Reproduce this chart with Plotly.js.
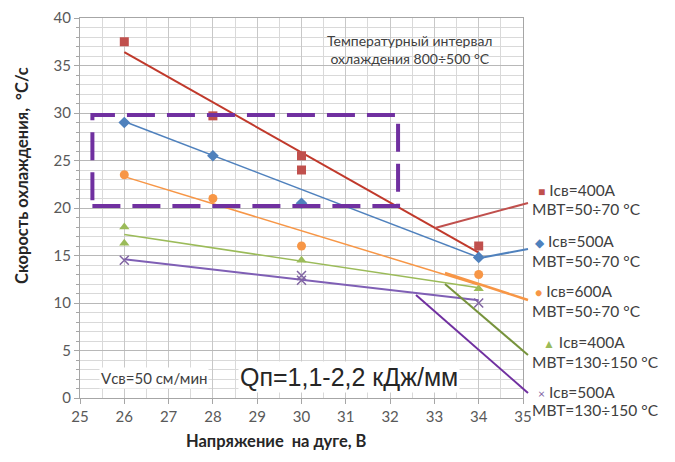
<!DOCTYPE html>
<html>
<head>
<meta charset="utf-8">
<script src="https://cdn.plot.ly/plotly-3.0.1.min.js"></script>
<style>html,body{margin:0;padding:0;background:#fff;}#chart{width:675px;height:462px;}</style>
</head>
<body>
<div id="chart"></div>
<script>
// Measured points
const x400a = [26, 28, 30, 30, 34];
const y400a = [37.5, 29.7, 25.5, 24.0, 16.0];
const x500a = [26, 28, 30, 34];
const y500a = [29.0, 25.5, 20.5, 14.8];
const x600a = [26, 28, 30, 34];
const y600a = [23.5, 21.0, 16.0, 13.0];
const x400b = [26, 26, 30, 34];
const y400b = [18.0, 16.3, 14.5, 11.5];
const x500b = [26, 30, 30, 34];
const y500b = [14.5, 12.9, 12.4, 10.0];

// Trend lines (endpoints at 26 and 34 V)
const trendX = [26, 34];
const trend400a = [36.4, 15.3];
const trend500a = [29.1, 14.8];
const trend600a = [23.3, 11.9];
const trend400b = [17.2, 11.6];
const trend500b = [14.6, 10.3];

// Axis ticks
const xTicks = [25, 26, 27, 28, 29, 30, 31, 32, 33, 34, 35];
const yTicks = [0, 5, 10, 15, 20, 25, 30, 35, 40];

const legendLabels = [
  ['■', '#C0504D', 'Iсв=400A', 'MBT=50÷70 °C'],
  ['◆', '#4F81BD', 'Iсв=500A', 'MBT=50÷70 °C'],
  ['●', '#F79646', 'Iсв=600A', 'MBT=50÷70 °C'],
  ['▲', '#9BBB59', 'Iсв=400A', 'MBT=130÷150 °C'],
  ['×', '#8064A2', 'Iсв=500A', 'MBT=130÷150 °C']
];

const FONT = 'Lato, "Open Sans", sans-serif';

function pts(x, y, color, symbol, size) {
  return {x: x, y: y, type: 'scatter', mode: 'markers', showlegend: false, hoverinfo: 'skip',
    marker: {color: color, symbol: symbol, size: size, line: {color: color, width: symbol === 'x-thin' ? 1.5 : 0}}};
}
function line(y, color, w) {
  return {x: trendX, y: y, type: 'scatter', mode: 'lines', showlegend: false, hoverinfo: 'skip',
    line: {color: color, width: w}};
}

const data = [
  line(trend400a, '#C0392B', 2),
  line(trend500a, '#4F81BD', 1.5),
  line(trend600a, '#F79646', 1.5),
  line(trend400b, '#9BBB59', 1.5),
  line(trend500b, '#7F5FB5', 2),
  pts(x400a, y400a, '#C0504D', 'square', 9),
  pts(x500a, y500a, '#4F81BD', 'diamond', 9),
  pts(x600a, y600a, '#F79646', 'circle', 9),
  pts(x400b, y400b, '#9BBB59', 'triangle-up', 9),
  pts(x500b, y500b, '#8064A2', 'x-thin', 9)
];

// plot area in pixels: x 80..523, y 18..398
const L = 80, R = 523, T = 18, B = 398;
const px = v => (v - L) / (R - L);
const py = v => (B - v) / (B - T);

function conn(x0, y0, x1, y1, color, w) {
  return {type: 'line', xref: 'paper', yref: 'paper', x0: px(x0), y0: py(y0), x1: px(x1), y1: py(y1),
    line: {color: color, width: w}};
}

const shapes = [
  {type: 'rect', xref: 'x', yref: 'y', x0: 25.28, x1: 32.18, y0: 20.2, y1: 29.8,
   line: {color: '#7030A0', width: 4, dash: '28px,12px'}},
  conn(435, 228, 528, 203, '#C0504D', 2),
  conn(480, 258, 528, 249, '#4F81BD', 2),
  conn(445, 273, 528, 300, '#F79646', 2.5),
  conn(445, 284, 528, 355, '#77933C', 2),
  conn(416, 295, 528, 393, '#7030A0', 2)
];

const annotations = [];
function ann(text, xPix, yPix, size, opts) {
  annotations.push(Object.assign({text: text, xref: 'paper', yref: 'paper', x: px(xPix), y: py(yPix),
    xanchor: 'left', yanchor: 'middle', showarrow: false,
    font: {family: FONT, size: size, color: '#404040'}}, opts || {}));
}
const legendY = [[190, 209, 536], [241, 261, 533], [291, 311, 533], [342, 362, 541], [392, 410, 536]];
legendLabels.forEach((l, i) => {
  ann('<span style="color:' + l[1] + ';font-size:12px">' + l[0] + '</span> ' + l[2], legendY[i][2], legendY[i][0], 15.5);
  ann(l[3], 530, legendY[i][1], 15.5);
});
ann('Температурный интервал<br>охлаждения 800÷500 °С', 410, 49, 14, {xanchor: 'center', align: 'center'});
ann('Vсв=50 см/мин', 99, 378, 15, {bgcolor: '#ffffff'});
ann('Qп=1,1-2,2 кДж/мм', 238, 377, 25, {bgcolor: '#ffffff', font: {family: '"Liberation Sans", Arial, sans-serif', size: 25, color: '#262626'}});
ann('<b>Напряжение  на дуге, В</b>', 276, 441, 16.5, {xanchor: 'center', font: {family: FONT, size: 16.5, color: '#262626'}});
ann('<b>Скорость охлаждения,  °С/с</b>', 22, 176, 16.5, {xanchor: 'center', textangle: -90, font: {family: FONT, size: 16.5, color: '#262626'}});

const layout = {
  width: 675, height: 462,
  margin: {l: L, r: 675 - R, t: T, b: 462 - B},
  paper_bgcolor: '#ffffff', plot_bgcolor: '#ffffff',
  font: {family: FONT, size: 15, color: '#595959'},
  showlegend: false,
  xaxis: {range: [25, 35], tickvals: xTicks, ticktext: xTicks.map(String), showgrid: true, gridcolor: '#c8c8c8', gridwidth: 1,
    minor: {dtick: 0.5, tick0: 25, showgrid: true, gridcolor: '#d9d9d9', gridwidth: 1},
    zeroline: false, showline: true, linecolor: '#a6a6a6', mirror: true,
    ticks: 'outside', ticklen: 5, tickcolor: '#a6a6a6', tickfont: {size: 15, color: '#595959'}, fixedrange: true},
  yaxis: {range: [0, 40], tickvals: yTicks, ticktext: yTicks.map(String), showgrid: true, gridcolor: '#b8b8b8', gridwidth: 1,
    minor: {dtick: 1, tick0: 0, showgrid: true, gridcolor: '#d9d9d9', gridwidth: 1, ticks: 'outside', ticklen: 3, tickcolor: '#a6a6a6'},
    zeroline: false, showline: true, linecolor: '#a6a6a6', mirror: true,
    ticks: 'outside', ticklen: 5, tickcolor: '#a6a6a6', tickfont: {size: 15, color: '#595959'}, fixedrange: true},
  shapes: shapes,
  annotations: annotations
};

Plotly.newPlot('chart', data, layout, {staticPlot: true, displayModeBar: false});
</script>
</body>
</html>
